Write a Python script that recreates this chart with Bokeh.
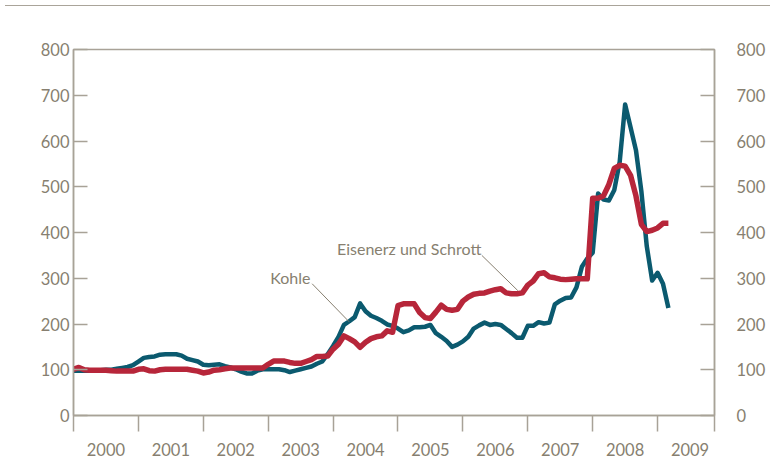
import pandas as pd
from bokeh.plotting import figure
from bokeh.models import FixedTicker, Div, Range1d, LinearAxis, Label
from bokeh.layouts import column
from bokeh.embed import file_html
from bokeh.resources import INLINE

# ---- data (monthly index values, Jan 2000 = ~100) ----
months = pd.date_range("2000-01-01", periods=111, freq="MS")

kohle = [
    98, 98, 98, 98, 98, 99, 100, 100, 102, 104, 106, 110,
    118, 126, 128, 129, 133, 134, 134, 134, 131, 124, 121, 118,
    111, 110, 111, 112, 108, 105, 101, 96, 92, 92, 98, 101,
    101, 101, 101, 99, 95, 98, 101, 104, 107, 113, 118, 134,
    152, 172, 198, 206, 215, 245, 228, 218, 213, 207, 199, 196,
    190, 182, 186, 193, 193, 194, 198, 180, 172, 163, 150, 155,
    162, 172, 190, 197, 203, 198, 200, 198, 189, 180, 170, 170,
    196, 196, 204, 201, 203, 243, 251, 257, 258, 280, 325, 343,
    356, 485, 472, 470, 493, 555, 680, 630, 580, 490, 370, 295,
    312, 288, 235,
]

eisenerz_schrott = [
    101, 105, 100, 99, 99, 99, 99, 98, 97, 97, 97, 97,
    101, 102, 98, 97, 100, 101, 101, 101, 101, 101, 99, 97,
    93, 95, 99, 100, 102, 104, 104, 104, 104, 104, 104, 104,
    112, 119, 119, 119, 116, 114, 114, 118, 122, 129, 129, 130,
    145, 156, 174, 168, 161, 149, 160, 168, 172, 174, 185, 182,
    240, 244, 244, 244, 225, 214, 212, 226, 241, 232, 230, 232,
    250, 259, 265, 267, 268, 272, 275, 277, 268, 266, 266, 268,
    285, 294, 310, 312, 303, 301, 298, 297, 298, 299, 299, 299,
    475, 475, 480, 505, 540, 547, 545, 525, 480, 418, 402, 405,
    410, 420, 420,
]

years = [2000, 2001, 2002, 2003, 2004, 2005, 2006, 2007, 2008, 2009]
year_labels = ["2000", "2001", "2002", "2003", "2004", "2005", "2006", "2007", "2008", "2009"]
y_ticks = [0, 100, 200, 300, 400, 500, 600, 700, 800]

x_end = 2009.877
t = [d.year + (d.month - 1) / 12 for d in months]

TEAL = "#0b5a6f"
RED = "#b7263a"
AXIS = "#a8a297"
TEXT = "#877f70"
FONT = "Lato"

p = figure(width=768, height=446, x_range=Range1d(2000, x_end), y_range=Range1d(0, 800),
           output_backend="svg", toolbar_location=None,
           min_border_left=73, min_border_right=53, min_border_top=37, min_border_bottom=43)
p.xgrid.visible = False
p.ygrid.visible = False
p.outline_line_color = AXIS
p.outline_line_width = 1.5
p.background_fill_color = "white"
p.border_fill_color = "white"

# bottom axis: boundaries as minor ticks, labels centred in each year
xa = p.xaxis[0]
mids = [y + 0.5 for y in years]
xa.ticker = FixedTicker(ticks=mids, minor_ticks=years + [x_end - 1e-6])
xa.major_label_overrides = {m: lab for m, lab in zip(mids, year_labels)}
xa.major_tick_in = 0
xa.major_tick_out = 0
xa.minor_tick_in = 0
xa.minor_tick_out = 16
xa.minor_tick_line_color = AXIS
xa.minor_tick_line_width = 1.5
xa.axis_line_color = AXIS
xa.axis_line_width = 1.5
xa.major_label_standoff = 11
xa.major_label_text_font = FONT
xa.major_label_text_font_size = "16.5px"
xa.major_label_text_color = TEXT

def style_y(ax, standoff):
    ax.ticker = FixedTicker(ticks=y_ticks)
    ax.major_tick_in = 14
    ax.major_tick_out = 0
    ax.minor_tick_in = 0
    ax.minor_tick_out = 0
    ax.major_tick_line_color = AXIS
    ax.major_tick_line_width = 1.5
    ax.axis_line_color = AXIS
    ax.axis_line_width = 1.5
    ax.major_label_standoff = standoff
    ax.major_label_text_font = FONT
    ax.major_label_text_font_size = "16.5px"
    ax.major_label_text_color = TEXT

style_y(p.yaxis[0], 4)
ra = LinearAxis()
style_y(ra, 22)
p.add_layout(ra, "right")

p.line(t, kohle, line_color=TEAL, line_width=4.5, line_join="round")
p.line(t, eisenerz_schrott, line_color=RED, line_width=5.5, line_join="round")

# annotations
p.segment(x0=[2003.677, 2006.292], y0=[288, 350], x1=[2004.246, 2006.846], y1=[205, 273],
          line_color=TEXT, line_width=1)
p.add_layout(Label(x=2003.03, y=302, text="Kohle", text_font=FONT, text_font_size="16px",
                   text_color=TEXT, text_baseline="middle", text_align="left"))
p.add_layout(Label(x=2004.06, y=366, text="Eisenerz und Schrott", text_font=FONT,
                   text_font_size="16px", text_color=TEXT, text_baseline="middle", text_align="left"))

top_rule = Div(width=770, height=2, styles={"border-top": "1.5px solid #aaa49a", "box-sizing": "border-box"})
layout = column(top_rule, p, spacing=0)

open("out.html", "w").write(file_html(layout, INLINE))
